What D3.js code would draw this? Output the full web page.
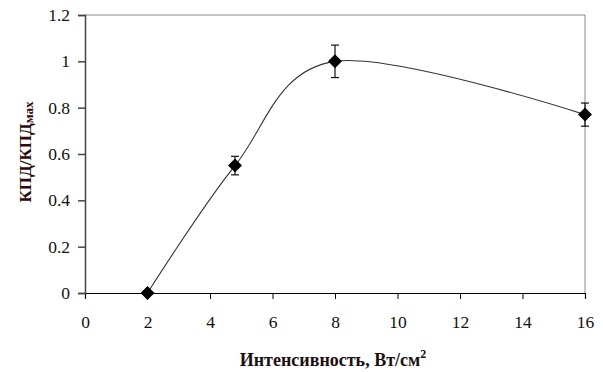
<!DOCTYPE html>
<html>
<head>
<meta charset="utf-8">
<script src="https://cdn.jsdelivr.net/npm/d3@7"></script>
<style>
	body { margin: 0; background: #fff; }
	svg { display: block; }
</style>
</head>
<body>
<div id="chart"></div>
<script>
// measured points
var intensity = [2, 4.8, 8, 16];
var efficiency = [0, 0.55, 1.0, 0.77];
var errors = [0, 0.04, 0.07, 0.05];

var xTicks = [0, 2, 4, 6, 8, 10, 12, 14, 16];
var yTicks = [0, 0.2, 0.4, 0.6, 0.8, 1, 1.2];

var serif = '"Liberation Serif", "Times New Roman", serif';

var width = 603, height = 372;
var margin = {left: 85, right: 18, top: 15, bottom: 79};

var svg = d3.select('#chart').append('svg')
	.attr('width', width)
	.attr('height', height);

var x = d3.scaleLinear().domain([0, 16]).range([margin.left, width - margin.right]);
var y = d3.scaleLinear().domain([0, 1.2]).range([height - margin.bottom, margin.top]);

// frame top/right
svg.append('path')
	.attr('d', 'M' + x(0) + ',' + y(1.2) + 'H' + x(16) + 'V' + y(0))
	.attr('fill', 'none')
	.attr('stroke', '#8a8a8a')
	.attr('stroke-width', 1);

var xAxis = svg.append('g')
	.attr('transform', 'translate(0,' + y(0) + ')')
	.call(d3.axisBottom(x).tickValues(xTicks).tickSize(6).tickPadding(17).tickFormat(d3.format('d')));
xAxis.select('.domain').attr('stroke', '#000').attr('stroke-width', 1.2);

var yAxis = svg.append('g')
	.attr('transform', 'translate(' + x(0) + ',0)')
	.call(d3.axisLeft(y).tickValues(yTicks).tickSize(7).tickPadding(8).tickFormat(function(d) { return d; }));
yAxis.selectAll('.domain, .tick line').attr('stroke', '#444').attr('stroke-width', 1.5);

svg.selectAll('.tick text')
	.style('font-family', serif)
	.style('font-size', '17.5px')
	.attr('fill', '#111');

var pts = intensity.map(function(v, i) { return {x: v, y: efficiency[i], e: errors[i]}; });

var line = d3.line()
	.x(function(d) { return x(d.x); })
	.y(function(d) { return y(d.y); })
	.curve(d3.curveCardinal.tension(0));

svg.append('path')
	.datum(pts)
	.attr('d', line)
	.attr('fill', 'none')
	.attr('stroke', '#333')
	.attr('stroke-width', 1.1);

// error bars
var eb = svg.selectAll('.err').data(pts.filter(function(d) { return d.e > 0; }))
	.enter().append('g').attr('class', 'err')
	.attr('stroke', '#111').attr('stroke-width', 1.2);
eb.append('line')
	.attr('x1', function(d) { return x(d.x); })
	.attr('x2', function(d) { return x(d.x); })
	.attr('y1', function(d) { return y(d.y + d.e); })
	.attr('y2', function(d) { return y(d.y - d.e); });
eb.append('line')
	.attr('x1', function(d) { return x(d.x) - 4; })
	.attr('x2', function(d) { return x(d.x) + 4; })
	.attr('y1', function(d) { return y(d.y + d.e); })
	.attr('y2', function(d) { return y(d.y + d.e); });
eb.append('line')
	.attr('x1', function(d) { return x(d.x) - 4; })
	.attr('x2', function(d) { return x(d.x) + 4; })
	.attr('y1', function(d) { return y(d.y - d.e); })
	.attr('y2', function(d) { return y(d.y - d.e); });

// diamonds
svg.selectAll('.pt').data(pts)
	.enter().append('path')
	.attr('class', 'pt')
	.attr('d', 'M0,-7L7,0L0,7L-7,0Z')
	.attr('transform', function(d) { return 'translate(' + x(d.x) + ',' + y(d.y) + ')'; })
	.attr('fill', '#000');

// titles
var xt = svg.append('text')
	.attr('x', 333)
	.attr('y', 366)
	.attr('text-anchor', 'middle')
	.style('font-family', serif)
	.style('font-size', '18px')
	.style('font-weight', 'bold')
	.attr('fill', '#1a1010');
xt.append('tspan').text('Интенсивность, Вт/см');
xt.append('tspan').attr('dy', -8).style('font-size', '12px').text('2');

var yt = svg.append('text')
	.attr('transform', 'translate(31,152) rotate(-90)')
	.attr('text-anchor', 'middle')
	.style('font-family', serif)
	.style('font-size', '17px')
	.style('font-weight', 'bold')
	.attr('fill', '#2a0a0a');
yt.append('tspan').text('КПД/КПД');
yt.append('tspan').attr('dy', 2).style('font-size', '13px').text('мах');
</script>
</body>
</html>
